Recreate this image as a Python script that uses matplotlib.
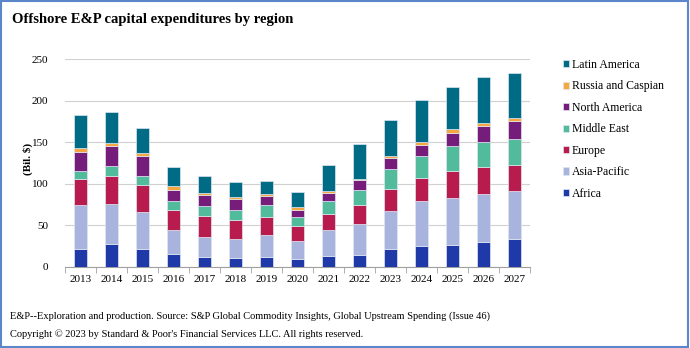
import numpy as np
import matplotlib.pyplot as plt
from matplotlib.patches import Rectangle

plt.rcParams['font.family'] = ['Liberation Serif', 'DejaVu Serif']

# Lata
lata = ['2013', '2014', '2015', '2016', '2017', '2018', '2019', '2020',
        '2021', '2022', '2023', '2024', '2025', '2026', '2027']

# Wartości (Bil. $)
africa = [22, 27, 22, 16, 12, 11, 12.5, 9.5, 13, 14, 21, 25.5, 26.5, 30.5, 33]
asia_pacific = [52, 49, 44, 28, 24, 23, 25.5, 22, 31, 38, 46.5, 53.5, 57, 57.5, 58]
europe = [32, 34, 32, 24, 25, 22, 21.5, 17.5, 20, 22, 26, 28, 32.5, 32.5, 32]
middle_east = [10, 12, 12, 11, 12, 13, 14.5, 10.5, 15, 18, 24.5, 27, 29, 30, 31]
north_america = [22, 23, 23, 14, 14, 13, 11, 8.5, 10, 12, 13, 13, 16, 18.5, 21]
russia = [5, 4, 4, 4, 2.5, 2.5, 2.5, 3.5, 2, 2, 3, 3, 4.5, 4, 4]
latin_america = [40, 38, 30, 23, 19.5, 17.5, 16, 19, 31.5, 42, 42.5, 50.5, 50.5, 55, 54]

serie = [
    ('Africa', africa, '#1f3aa8'),
    ('Asia-Pacific', asia_pacific, '#a9b4de'),
    ('Europe', europe, '#b81c4e'),
    ('Middle East', middle_east, '#52bb9b'),
    ('North America', north_america, '#761c7a'),
    ('Russia and Caspian', russia, '#f5a742'),
    ('Latin America', latin_america, '#006b85'),
]

fig = plt.figure(figsize=(6.9, 3.48), dpi=100)
ax = fig.add_axes([0.094, 0.233, 0.674, 0.597])

x = np.arange(len(lata))
dol = np.zeros(len(lata))
for nazwa, wartosci, kolor in serie:
    ax.bar(x, wartosci, width=0.4, bottom=dol, color=kolor, label=nazwa,
           edgecolor='#dfe6f0', linewidth=0.5, zorder=3)
    dol += np.array(wartosci)

ax.set_xlim(-0.5, len(lata) - 0.5)
ax.set_ylim(0, 250)
ax.set_yticks([0, 50, 100, 150, 200, 250])
ax.set_xticks(x)
ax.set_xticklabels(lata, fontsize=8)
ax.set_xticks(np.arange(-0.5, len(lata), 1), minor=True)
ax.tick_params(axis='x', which='major', length=0, pad=6)
ax.tick_params(axis='x', which='minor', length=4, color='#a0a0a0')
ax.tick_params(axis='y', length=0, labelsize=8, pad=12)
ax.grid(axis='y', color='#d0d0d0', linewidth=0.8, zorder=0)
for s in ['top', 'right', 'left']:
    ax.spines[s].set_visible(False)
ax.spines['bottom'].set_color('#a0a0a0')
ax.set_ylabel('(Bil. $)', fontsize=8, fontweight='bold', labelpad=6)
ax.yaxis.set_label_coords(-0.068, 0.52)

uchwyty, etykiety = ax.get_legend_handles_labels()
fig.legend(uchwyty[::-1], etykiety[::-1], loc='upper left',
           bbox_to_anchor=(0.8, 0.861), frameon=False, fontsize=8.5,
           handlelength=0.55, handleheight=0.55, handletextpad=0.25,
           labelspacing=0.8)

fig.text(0.0175, 0.945, 'Offshore E&P capital expenditures by region',
         fontsize=10.5, fontweight='bold', va='center')
fig.text(0.0145, 0.092, 'E&P--Exploration and production. Source: S&P Global Commodity Insights, '
         'Global Upstream Spending (Issue 46)', fontsize=7.5, va='center')
fig.text(0.0145, 0.04, 'Copyright © 2023 by Standard & Poor\'s Financial Services LLC. All rights reserved.',
         fontsize=7.5, va='center')

fig.patches.append(Rectangle((0.002, 0.003), 0.995, 0.993, transform=fig.transFigure,
                             fill=False, edgecolor='#5b86c9', linewidth=1.5))

fig.savefig('out.png', dpi=100)
